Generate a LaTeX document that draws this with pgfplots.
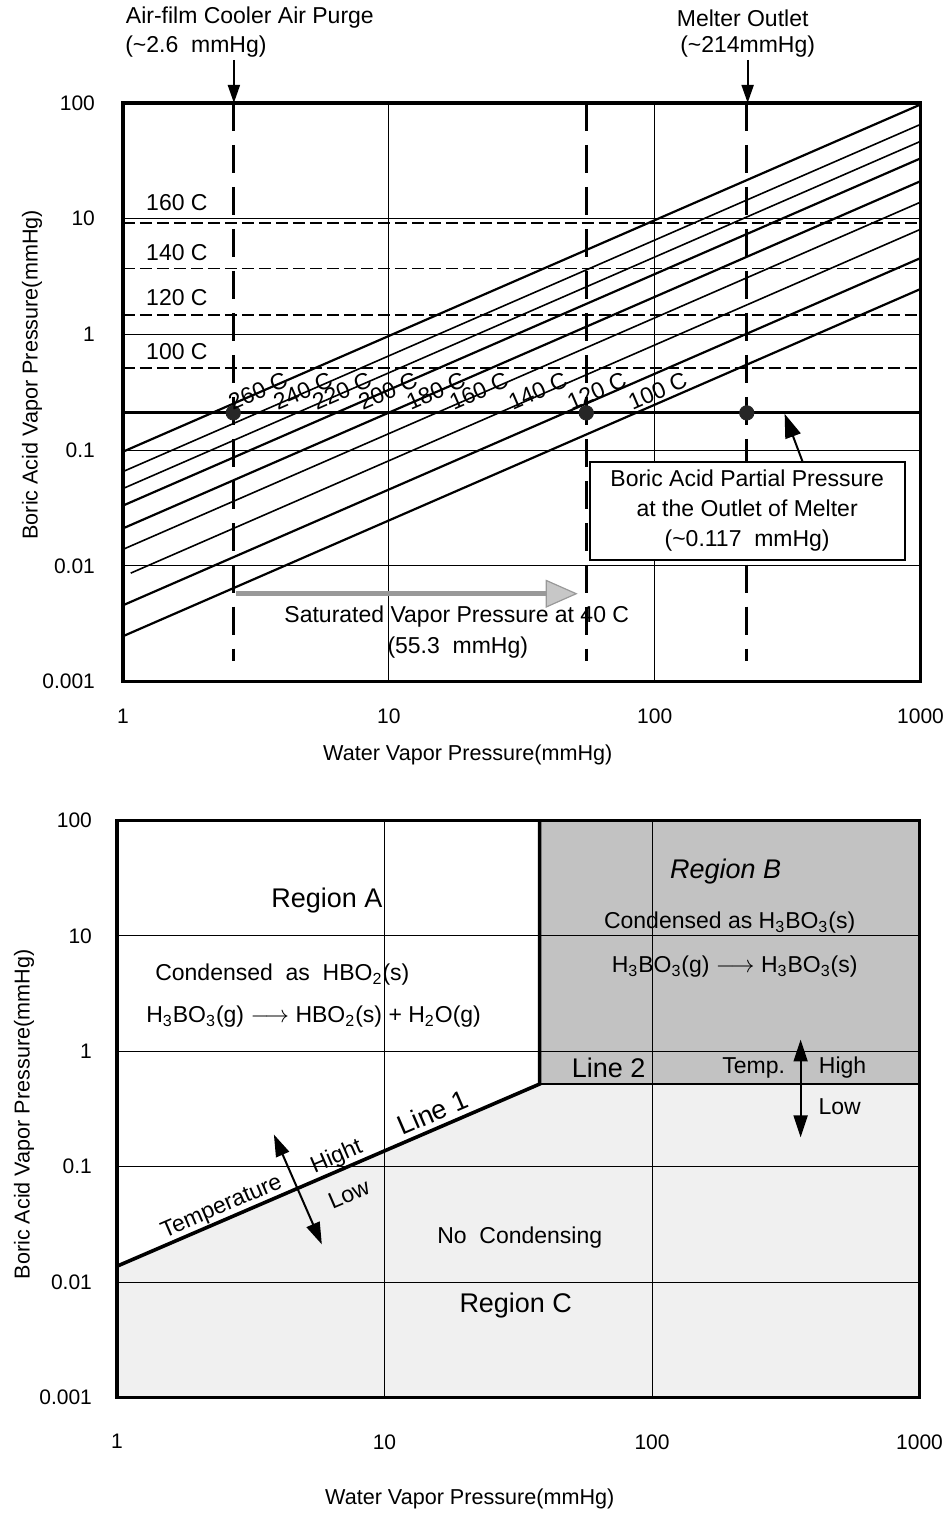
\documentclass[border=0pt]{standalone}
\usepackage{pgfplots}
\pgfplotsset{compat=1.18}
\usepackage{fontspec}
\setmainfont{Liberation Sans}
\usetikzlibrary{arrows.meta}

\newcommand{\fa}{\fontsize{11.5}{13.5}\selectfont}
\newcommand{\fr}{\fontsize{13.5}{16}\selectfont}
\newcommand{\fl}{\fontsize{10.8}{13}\selectfont}
\newcommand{\ft}{\fontsize{10.5}{12}\selectfont}

\begin{document}
\begin{tikzpicture}
\begin{scope}[x=0.5pt,y=-0.5pt]
\path[use as bounding box] (0,0) rectangle (950,1516);
\end{scope}

% ---------------- Top chart ----------------
\begin{axis}[
  xmode=log, ymode=log, scale only axis,
  xmin=1, xmax=1000, ymin=0.001, ymax=100,
  xtick={1,10,100,1000}, ytick={0.001,0.01,0.1,1,10,100},
  xticklabels={1,10,100,1000},
  yticklabels={0.001,0.01,0.1,1,10,100},
  major tick length=0pt, minor tick length=0pt,
  xmajorgrids, ymajorgrids,
  major grid style={black, line width=0.5pt},
  axis line style={line width=1.6pt},
  tick label style={font=\ft},
  at={(61.5pt,-341pt)}, anchor=south west,
  width=399pt, height=289.5pt,
  yticklabel style={xshift=-10.5pt},
  xticklabel style={yshift=-10pt},
]
\addplot[black, line width=1.1pt] coordinates {(1,0.097) (1000,97)};
\addplot[black, line width=0.8pt] coordinates {(1,0.0653) (1000,65.3)};
\addplot[black, line width=0.8pt] coordinates {(1,0.0466) (1000,46.6)};
\addplot[black, line width=1.1pt] coordinates {(1,0.0332) (1000,33.2)};
\addplot[black, line width=1.1pt] coordinates {(1,0.0211) (1000,21.1)};
\addplot[black, line width=0.8pt] coordinates {(1,0.0139) (1000,13.9)};
\addplot[black, line width=0.8pt] coordinates {(1.07,0.00867) (1000,8.1)};
\addplot[black, line width=1.1pt] coordinates {(1,0.00457) (1000,4.57)};
\addplot[black, line width=1.1pt] coordinates {(1,0.00247) (1000,2.47)};
\addplot[black, line width=0.7pt, dash pattern=on 6pt off 2.5pt] coordinates {(1,9.2) (1000,9.2)};
\addplot[black, line width=0.7pt, dash pattern=on 6pt off 2.5pt] coordinates {(1,3.72) (1000,3.72)};
\addplot[black, line width=0.7pt, dash pattern=on 6pt off 2.5pt] coordinates {(1,1.47) (1000,1.47)};
\addplot[black, line width=0.9pt, dash pattern=on 6pt off 2.5pt] coordinates {(1,0.517) (1000,0.517)};
\addplot[black, line width=1.5pt] coordinates {(1,0.21) (1000,0.21)};
\addplot[black, line width=1.5pt, dash pattern=on 14pt off 7pt] coordinates {(2.6,100) (2.6,0.0015)};
\addplot[black, line width=1.5pt, dash pattern=on 14pt off 7pt] coordinates {(55.3,100) (55.3,0.0015)};
\addplot[black, line width=1.5pt, dash pattern=on 14pt off 7pt] coordinates {(222,100) (222,0.0015)};
\addplot[only marks, mark=*, mark size=3.6pt, black!85] coordinates {(2.6,0.21) (55.3,0.21) (222,0.21)};
\end{axis}

% ---------------- Bottom chart ----------------
\begin{axis}[
  xmode=log, ymode=log, scale only axis,
  xmin=1, xmax=1000, ymin=0.001, ymax=100,
  xtick={1,10,100,1000}, ytick={0.001,0.01,0.1,1,10,100},
  xticklabels={1,10,100,1000},
  yticklabels={0.001,0.01,0.1,1,10,100},
  major tick length=0pt, minor tick length=0pt,
  xmajorgrids, ymajorgrids,
  major grid style={black, line width=0.5pt},
  axis line style={line width=1.6pt},
  tick label style={font=\ft},
  at={(58.5pt,-699pt)}, anchor=south west,
  width=401.5pt, height=288.5pt,
  axis on top,
  yticklabel style={xshift=-9pt},
  xticklabel style={yshift=-15pt},
]
\addplot[fill=black!6, draw=none] coordinates {(1,0.001) (1,0.0137) (38,0.52) (1000,0.52) (1000,0.001)} -- cycle;
\addplot[fill=black!24, draw=none] coordinates {(38,0.52) (38,100) (1000,100) (1000,0.52)} -- cycle;
\addplot[black, line width=1.8pt] coordinates {(1,0.0137) (38,0.52) (38,100)};
\addplot[black, line width=1.4pt] coordinates {(38,0.52) (1000,0.52)};
\end{axis}

\begin{scope}[x=0.5pt,y=-0.5pt]
\node[font=\fa] at (250,18) {Air-film Cooler Air Purge};
\node[font=\fa] at (196,47) {(\textasciitilde2.6\ \ mmHg)};
\node[font=\fa] at (743,18) {Melter Outlet};
\node[font=\fa] at (748,47) {(\textasciitilde214mmHg)};
\draw[line width=1pt, -{Triangle[length=9pt,width=6pt]}] (234,60) -- (234,103);
\draw[line width=1pt, -{Triangle[length=9pt,width=6pt]}] (748,60) -- (748,103);

\node[font=\fa] at (177,203) {160 C};
\node[font=\fa] at (177,253) {140 C};
\node[font=\fa] at (177,298) {120 C};
\node[font=\fa] at (177,352) {100 C};

\foreach \xx/\tt in {258/260, 303/240, 342/220, 388/200, 436/180, 479/160, 538/140, 597/120, 658/100}
  \node[font=\fa, rotate=23.5, inner sep=0pt] at (\xx,391) {\tt\ C};

\draw[line width=2.6pt, black!40, -{Triangle[length=16pt,width=14pt, fill=black!22, color=black!40, line width=0.6pt]}] (236,594) -- (578,594);
\node[font=\fa] at (457,617) {Saturated Vapor Pressure at 40 C};
\node[font=\fa] at (458,648) {(55.3\ \ mmHg)};

\node[draw, line width=1pt, fill=white, align=center, minimum width=157.5pt, minimum height=49pt,
      font=\fontsize{11.5}{15}\selectfont] at (747.5,511) {Boric Acid Partial Pressure\\at the Outlet of Melter\\(\textasciitilde0.117\ \ mmHg)};
\draw[line width=1pt, -{Triangle[length=12pt,width=8pt]}] (803,462) -- (785,414);

\node[font=\fl] at (468,755) {Water Vapor Pressure(mmHg)};
\node[font=\fl, rotate=90] at (32,375) {Boric Acid Vapor Pressure(mmHg)};

\node[font=\fr] at (327,901) {Region A};
\node[font=\fa, anchor=west, inner sep=0pt] at (155,975) {Condensed\ \ as\ \ HBO\textsubscript{2}(s)};
\node[font=\fa, anchor=west, inner sep=0pt] at (146,1017) {H\textsubscript{3}BO\textsubscript{3}(g) $\longrightarrow$ HBO\textsubscript{2}(s) + H\textsubscript{2}O(g)};

\node[font=\fr\itshape] at (726,872) {Region B};
\node[font=\fa] at (730,923) {Condensed as H\textsubscript{3}BO\textsubscript{3}(s)};
\node[font=\fa] at (735,967) {H\textsubscript{3}BO\textsubscript{3}(g) $\longrightarrow$ H\textsubscript{3}BO\textsubscript{3}(s)};
\node[font=\fr] at (609,1068) {Line 2};
\node[font=\fa] at (754,1068) {Temp.};
\node[font=\fa] at (843,1068) {High};
\node[font=\fa] at (840,1107) {Low};
\draw[line width=1pt, {Triangle[length=11pt,width=7pt]}-{Triangle[length=11pt,width=7pt]}] (801,1040) -- (801,1138);

\node[font=\fr, rotate=23.3, inner sep=0pt] at (433,1113) {Line 1};
\node[font=\fa, rotate=23.3, inner sep=0pt] at (222,1208) {Temperature};
\node[font=\fa, rotate=23.3, inner sep=0pt] at (337,1158) {Hight};
\node[font=\fa, rotate=23.3, inner sep=0pt] at (349,1195) {Low};
\draw[line width=1pt, {Triangle[length=11pt,width=7pt]}-{Triangle[length=11pt,width=7pt]}] (274,1135) -- (322,1245);

\node[font=\fa] at (520,1238) {No\ \ Condensing};
\node[font=\fr] at (516,1306) {Region C};

\node[font=\fl] at (470,1500) {Water Vapor Pressure(mmHg)};
\node[font=\fl, rotate=90] at (24,1115) {Boric Acid Vapor Pressure(mmHg)};
\end{scope}
\end{tikzpicture}
\end{document}
